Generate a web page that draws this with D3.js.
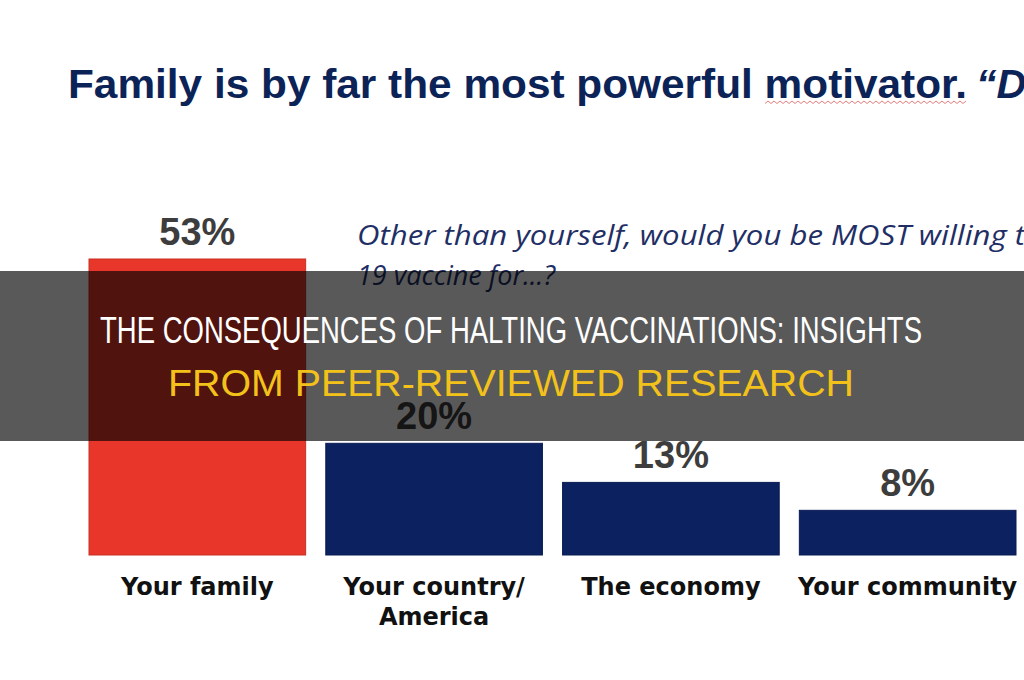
<!DOCTYPE html>
<html>
<head>
<meta charset="utf-8">
<script src="https://cdn.jsdelivr.net/npm/d3@7"></script>
<style>
  body { margin: 0; background: #fff; }
  svg { display: block; }
</style>
</head>
<body>
<svg></svg>
<script>
var width = 1024;
var height = 680;

// chart data
var categories = ["Your family", "Your country/\nAmerica", "The economy", "Your community"];
var values = [53, 20, 13, 8];
var barColors = ["#e8372a", "#0b2160", "#0b2160", "#0b2160"];

var titleText = "Family is by far the most powerful motivator.";
var titleTail = "\u201cD";
var questionLines = ["Other than yourself, would you be MOST willing t", "19 vaccine for...?"];
var bannerLines = ["THE CONSEQUENCES OF HALTING VACCINATIONS: INSIGHTS", "FROM PEER-REVIEWED RESEARCH"];

var svg = d3.select("svg")
    .attr("width", width)
    .attr("height", height);

var baseY = 555;

var x = d3.scaleBand()
    .domain(categories)
    .range([89, 1016])
    .paddingInner(0.085)
    .paddingOuter(0);

var y = d3.scaleLinear()
    .domain([0, 53])
    .range([baseY, 259]);

// title
var title = svg.append("text")
    .attr("x", 68)
    .attr("y", 98)
    .style("font-family", "'Liberation Sans', Arial, sans-serif")
    .style("font-weight", "bold")
    .style("font-size", "41px")
    .style("fill", "#0c2357");
title.append("tspan")
    .attr("textLength", 899)
    .attr("lengthAdjust", "spacingAndGlyphs")
    .text(titleText);
title.append("tspan")
    .attr("x", 976)
    .style("font-style", "italic")
    .text(titleTail);

// spell check squiggle under "motivator."
var sq = d3.range(765, 967, 3);
svg.append("path")
    .attr("d", d3.line()(sq.map(function(d, i) { return [d, i % 2 ? 101 : 103.5]; })))
    .style("fill", "none")
    .style("stroke", "#e07070")
    .style("stroke-width", 0.9);

// question text
svg.append("g").selectAll("text")
    .data(questionLines)
    .enter().append("text")
      .attr("x", 357)
      .attr("y", function(d, i) { return 245 + i * 40; })
      .attr("textLength", function(d, i) { return i == 0 ? 668 : null; })
      .attr("lengthAdjust", "spacingAndGlyphs")
      .style("font-family", "'Open Sans', 'Noto Sans', sans-serif")
      .style("font-style", "italic")
      .style("font-size", "27px")
      .style("fill", "#1f2f66")
      .text(function(d) { return d; });

// bars
var bars = svg.append("g").attr("class", "bars");

bars.selectAll("rect")
    .data(values)
    .enter().append("rect")
      .attr("x", function(d, i) { return x(categories[i]); })
      .attr("y", function(d) { return y(d); })
      .attr("width", x.bandwidth())
      .attr("height", function(d) { return baseY - y(d); })
      .style("fill", function(d, i) { return barColors[i]; })
      .style("stroke", function(d, i) { return d3.color(barColors[i]).darker(0.4); })
      .style("stroke-width", 1);

// value labels
bars.selectAll("text.value")
    .data(values)
    .enter().append("text")
      .attr("class", "value")
      .attr("x", function(d, i) { return x(categories[i]) + x.bandwidth() / 2; })
      .attr("y", function(d) { return y(d) - 14; })
      .attr("text-anchor", "middle")
      .style("font-family", "'Liberation Sans', Arial, sans-serif")
      .style("font-weight", "bold")
      .style("font-size", "38px")
      .style("fill", "#3d3d3d")
      .text(function(d) { return d + "%"; });

// category labels
var cat = svg.append("g").selectAll("text")
    .data(categories)
    .enter().append("text")
      .attr("x", function(d) { return x(d) + x.bandwidth() / 2; })
      .attr("y", 595)
      .attr("text-anchor", "middle")
      .style("font-family", "'DejaVu Sans', sans-serif")
      .style("font-weight", "bold")
      .style("font-size", "24px")
      .style("fill", "#111");

cat.selectAll("tspan")
    .data(function(d) { return d.split("\n").map(function(t) { return { t: t, x: x(d) + x.bandwidth() / 2 }; }); })
    .enter().append("tspan")
      .attr("x", function(d) { return d.x; })
      .attr("dy", function(d, i) { return i ? 30 : 0; })
      .text(function(d) { return d.t; });

// dark banner over the chart
svg.append("rect")
    .attr("x", 0)
    .attr("y", 271)
    .attr("width", width)
    .attr("height", 170)
    .style("fill", "#000")
    .style("fill-opacity", 0.65);

svg.append("g").selectAll("text")
    .data(bannerLines)
    .enter().append("text")
      .attr("x", width / 2 - 1)
      .attr("y", function(d, i) { return i ? 396 : 343; })
      .attr("text-anchor", "middle")
      .attr("textLength", function(d, i) { return i ? 686 : 822; })
      .attr("lengthAdjust", "spacingAndGlyphs")
      .style("font-family", "'Liberation Sans', Arial, sans-serif")
      .style("font-size", function(d, i) { return i ? "37px" : "36px"; })
      .style("fill", function(d, i) { return i ? "#f2c21b" : "#ffffff"; })
      .text(function(d) { return d; });
</script>
</body>
</html>
